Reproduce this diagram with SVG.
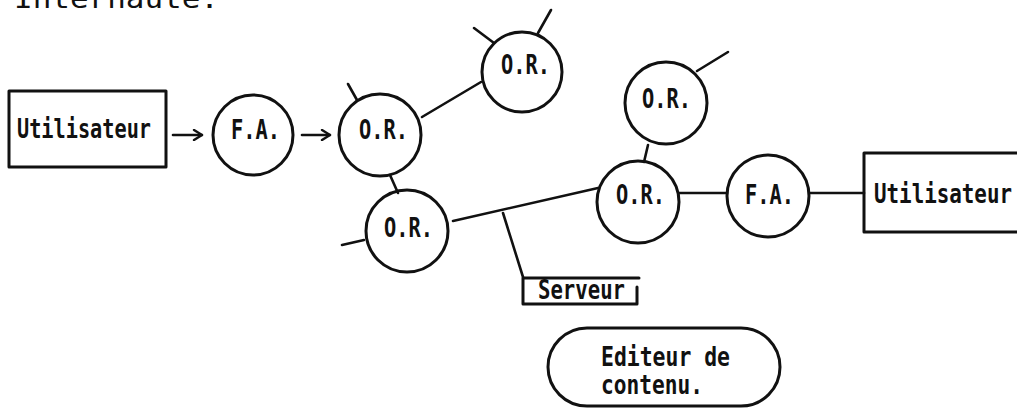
<svg xmlns="http://www.w3.org/2000/svg" width="1017" height="408" viewBox="0 0 1017 408">
  <style>
    .shape { fill: none; stroke: #111; stroke-width: 3; stroke-linecap: round; stroke-linejoin: round; }
    .link { fill: none; stroke: #111; stroke-width: 2.6; stroke-linecap: round; }
    .lbl { font-family: "DejaVu Sans Mono", "Liberation Mono", monospace; font-size: 26px; font-weight: bold; fill: #111; }
  </style>
  <defs>
    <marker id="openArrow" viewBox="0 0 12 12" refX="11" refY="6" markerWidth="12" markerHeight="12" markerUnits="userSpaceOnUse" orient="auto">
      <path d="M3,1 L11,6 L3,11" fill="none" stroke="#111" stroke-width="2.4" stroke-linecap="round" stroke-linejoin="round"/>
    </marker>
  </defs>

  <rect width="1017" height="408" fill="#fff"/>

  <!-- heading line, mostly above the top edge -->
  <text class="lbl" x="14" y="8" font-size="30" textLength="205" lengthAdjust="spacingAndGlyphs" style="font-weight:normal">Internaute.</text>

  <!-- connectors -->
  <g id="connectors">
    <line class="link" x1="173" y1="135" x2="202" y2="135" marker-end="url(#openArrow)"/>
    <line class="link" x1="302" y1="135" x2="330" y2="135" marker-end="url(#openArrow)"/>
    <line class="link" x1="422" y1="117" x2="481" y2="82"/>
    <line class="link" x1="390" y1="175" x2="398" y2="193"/>
    <line class="link" x1="453" y1="221" x2="598" y2="188"/>
    <polyline class="link" points="503,213 523,277"/>
    <line class="link" x1="648" y1="145" x2="644" y2="162"/>
    <line class="link" x1="679" y1="193" x2="727" y2="193"/>
    <line class="link" x1="810" y1="193" x2="864" y2="193"/>
    <!-- open stubs -->
    <line class="link" x1="348" y1="84" x2="357" y2="100"/>
    <line class="link" x1="474" y1="28" x2="494" y2="43"/>
    <line class="link" x1="538" y1="33" x2="551" y2="10"/>
    <line class="link" x1="342" y1="245" x2="364" y2="240"/>
    <line class="link" x1="697" y1="71" x2="728" y2="52"/>
  </g>

  <g id="user-left">
    <rect class="shape" x="9" y="91" width="157" height="76"/>
    <text class="lbl" x="17" y="138" textLength="134" lengthAdjust="spacingAndGlyphs">Utilisateur</text>
  </g>

  <g id="fa-left">
    <circle class="shape" cx="253" cy="135" r="40"/>
    <text class="lbl" x="231" y="139" textLength="49" lengthAdjust="spacingAndGlyphs">F.A.</text>
  </g>

  <g id="or-1">
    <circle class="shape" cx="380" cy="135" r="41"/>
    <text class="lbl" x="359" y="139" textLength="49" lengthAdjust="spacingAndGlyphs">O.R.</text>
  </g>

  <g id="or-top">
    <circle class="shape" cx="522" cy="72" r="40"/>
    <text class="lbl" x="501" y="74" textLength="49" lengthAdjust="spacingAndGlyphs">O.R.</text>
  </g>

  <g id="or-low">
    <circle class="shape" cx="407" cy="231" r="41"/>
    <text class="lbl" x="384" y="237" textLength="49" lengthAdjust="spacingAndGlyphs">O.R.</text>
  </g>

  <g id="or-upper-right">
    <circle class="shape" cx="666" cy="103" r="41"/>
    <text class="lbl" x="642" y="108" textLength="49" lengthAdjust="spacingAndGlyphs">O.R.</text>
  </g>

  <g id="or-right">
    <circle class="shape" cx="638" cy="202" r="41"/>
    <text class="lbl" x="616" y="204" textLength="49" lengthAdjust="spacingAndGlyphs">O.R.</text>
  </g>

  <g id="fa-right">
    <circle class="shape" cx="768" cy="196" r="41"/>
    <text class="lbl" x="745" y="204" textLength="49" lengthAdjust="spacingAndGlyphs">F.A.</text>
  </g>

  <g id="user-right">
    <rect class="shape" x="864" y="153" width="160" height="79"/>
    <text class="lbl" x="874" y="203" textLength="138" lengthAdjust="spacingAndGlyphs">Utilisateur</text>
  </g>

  <g id="serveur">
    <path class="shape" d="M523,278 H639 M523,278 V304 H637 V287"/>
    <text class="lbl" x="538" y="299" textLength="87" lengthAdjust="spacingAndGlyphs">Serveur</text>
  </g>

  <g id="editeur">
    <rect class="shape" x="548" y="328" width="232" height="78" rx="39" ry="39"/>
    <text class="lbl" x="601" y="366" textLength="129" lengthAdjust="spacingAndGlyphs">Editeur de</text>
    <text class="lbl" x="601" y="394" textLength="102" lengthAdjust="spacingAndGlyphs">contenu.</text>
  </g>
</svg>
